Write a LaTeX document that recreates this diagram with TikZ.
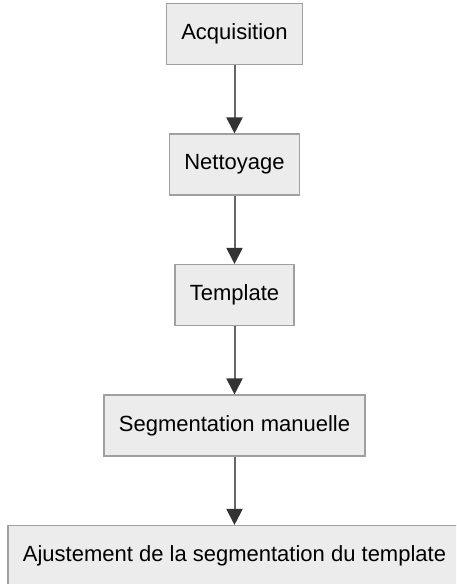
\documentclass[tikz,border=0pt]{standalone}
\usepackage{fontspec}
\setmainfont{Liberation Sans}
\usepackage{xcolor}
\usetikzlibrary{positioning,arrows.meta}
\definecolor{boxfill}{HTML}{ECECEC}
\definecolor{boxline}{HTML}{A0A0A0}
\definecolor{linkline}{HTML}{666666}
\definecolor{linkhead}{HTML}{333333}
\tikzset{stepbox/.style={draw=boxline,fill=boxfill,line width=1.5pt,minimum height=61pt,inner xsep=15pt,font=\fontsize{22}{26}\selectfont},
link/.style={draw=linkline,line width=2pt,-{Triangle[length=16pt,width=16pt,color=linkhead]}}}

\begin{document}
\begin{tikzpicture}[x=1pt,y=-1pt]
\useasboundingbox (0,0) rectangle (456,584);
\clip (0,0) rectangle (456,584);
\fill[white] (0,0) rectangle (456,584);
\node[stepbox] (acq) at (234.5,34.2) {Acquisition};
\node[stepbox,below=68pt of acq] (net) {Nettoyage};
\node[stepbox,below=68pt of net] (tpl) {Template};
\node[stepbox,below=68pt of tpl] (seg) {Segmentation manuelle};
\node[stepbox,below=68pt of seg] (adj) {Ajustement de la segmentation du template};
\draw[link] (acq) -- (net);
\draw[link] (net) -- (tpl);
\draw[link] (tpl) -- (seg);
\draw[link] (seg) -- (adj);
\end{tikzpicture}
\end{document}
